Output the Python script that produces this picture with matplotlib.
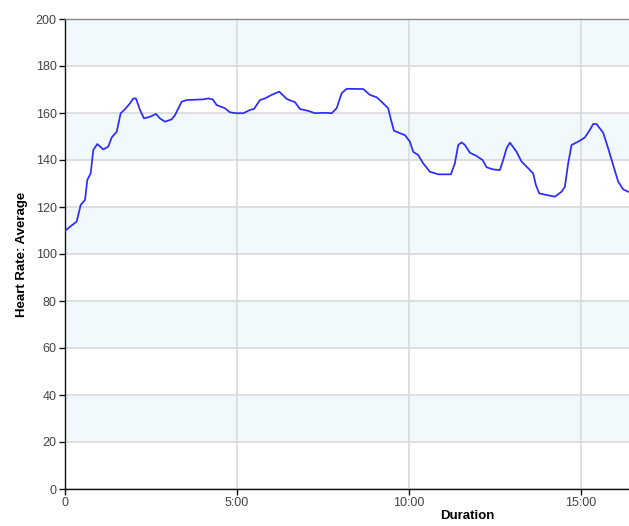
import matplotlib; matplotlib.use("Agg")
import matplotlib.pyplot as plt
from matplotlib.ticker import FuncFormatter

plt.rcParams["font.family"] = ["Liberation Sans", "DejaVu Sans"]

# elapsed seconds and average heart rate
t = [0, 8.7, 20.4, 27.4, 34.9, 38.9, 44.8, 49.4, 56.3, 66.8, 75.5, 81.5, 90.2, 97.1,
     104.7, 113.4, 119.1, 123.8, 130.8, 137.8, 148.3, 158.7, 165.7, 174.4, 186.1, 191.9,
     203.5, 212.3, 241.2, 249.9, 257.6, 264.6, 279.1, 287.8, 299.5, 311, 322.7, 329.7,
     340.1, 348.8, 360.5, 373.8, 386.7, 401.2, 409.9, 424.4, 436.1, 450.5, 465.2, 473.9,
     482.6, 491.3, 520.3, 532, 543.7, 555.2, 563.9, 568.1, 573.8, 587.3, 593, 601.7,
     607.5, 616.2, 624.9, 636.6, 651.1, 673.3, 680.2, 686, 691.9, 697.7, 706.4, 718.1,
     728.5, 735.5, 747, 758.7, 764.5, 770.4, 776.2, 787.8, 796.6, 808.1, 816.8, 821.5,
     827.3, 840.2, 854.7, 866.3, 872.1, 877.9, 883.8, 895.3, 907, 915.7, 921.5, 927.4,
     938.9, 947.6, 956.3, 965.1, 973.8, 982.5]
hr = [109.9, 111.6, 113.8, 120.9, 123, 131.5, 134.3, 144.3, 146.8, 144.5, 145.7, 149.6,
      152, 159.9, 161.6, 164.1, 166.2, 166.2, 161.3, 157.7, 158.4, 159.6, 157.7, 156.3,
      157.3, 159.1, 164.8, 165.5, 165.8, 166.2, 165.8, 163.4, 162, 160.3, 159.9, 159.9,
      161.3, 161.7, 165.5, 166.2, 167.7, 169.1, 166, 164.6, 161.7, 160.9, 159.9, 160.1,
      159.9, 162, 168.4, 170.3, 170.2, 167.7, 166.7, 164.1, 162, 157.7, 152.5, 151.1,
      150.6, 147.8, 143.5, 142.1, 138.6, 135, 133.9, 133.9, 138.6, 146.4, 147.5, 146.4,
      143.1, 141.7, 140, 136.9, 136, 135.7, 140, 145, 147.4, 143.5, 139.3, 136.5, 134.3,
      129.4, 125.8, 125.1, 124.4, 126.5, 128.6, 138.6, 146.4, 147.8, 149.6, 152.8, 155.3,
      155.3, 151.6, 145, 137.9, 130.8, 127.5, 126.5]
y_ticks = list(range(0, 201, 20))
x_ticks = [0, 300, 600, 900]

def mmss(v, pos=None):
    v = int(round(v))
    return "0" if v == 0 else f"{v // 60}:{v % 60:02d}"

fig = plt.figure(figsize=(6.29, 5.26), dpi=100)
ax = fig.add_axes([65/629, 1-489/526, 564/629, 470/526])
ax.set_xlim(0, 984); ax.set_ylim(0, 200)

# alternating light blue bands
for lo in range(20, 200, 40):
    ax.axhspan(lo, lo + 20, color="#f2f9fd", lw=0, zorder=0)
ax.set_yticks(y_ticks); ax.set_xticks(x_ticks)
ax.xaxis.set_major_formatter(FuncFormatter(mmss))
ax.grid(True, color="#d6d6d6", lw=1.1, zorder=1)
ax.set_axisbelow(True)

ax.plot(t, hr, color="#2b2bff", lw=1.25, solid_joinstyle="round", zorder=3)

for s in ("left", "bottom"):
    ax.spines[s].set_color("#111"); ax.spines[s].set_linewidth(1)
ax.spines["top"].set_color("#888"); ax.spines["top"].set_linewidth(1)
ax.spines["right"].set_visible(False)
ax.tick_params(length=4, width=1, color="#111", labelsize=9, labelcolor="#444", pad=2)

ax.set_ylabel("Heart Rate: Average", fontsize=9.5, fontweight="bold")
ax.yaxis.set_label_coords(-(65-28)/564, 0.5)
ax.set_xlabel("Duration", fontsize=9.5, fontweight="bold")
ax.xaxis.set_label_coords((467-65)/564, -0.045)

fig.savefig("out.png", dpi=100)
